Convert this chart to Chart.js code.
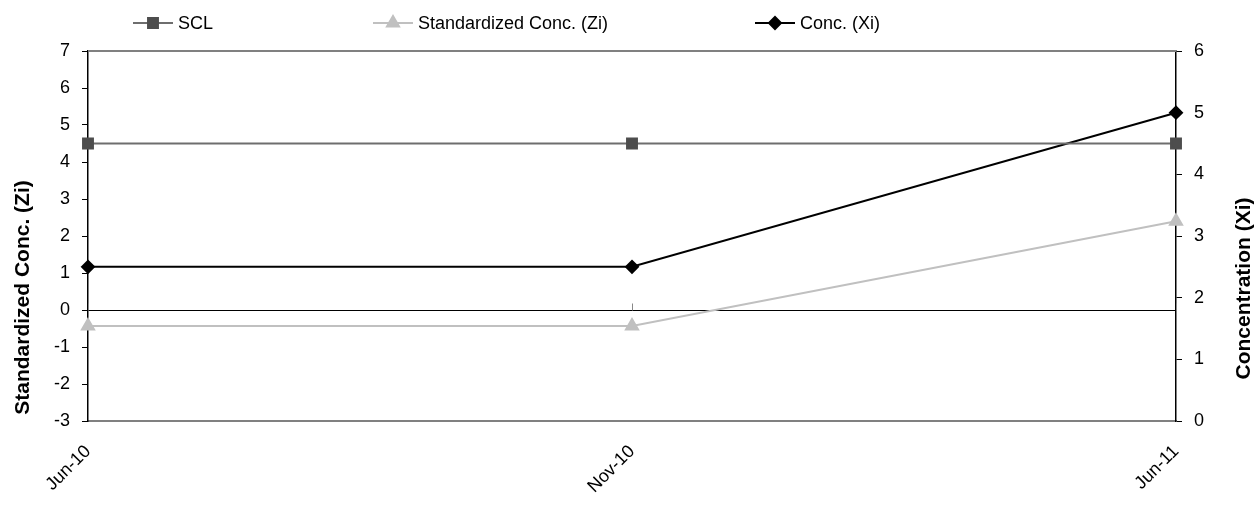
<!DOCTYPE html>
<html>
<head>
<meta charset="utf-8">
<script src="https://cdn.jsdelivr.net/npm/chart.js@4/dist/chart.umd.min.js"></script>
<style>
  html, body { margin: 0; padding: 0; background: #fff; }
  #wrap { width: 1259px; height: 508px; position: relative; }
</style>
</head>
<body>
<div id="wrap"><canvas id="myChart" width="1259" height="508"></canvas></div>
<script>
let dates = ['Jun-10', 'Nov-10', 'Jun-11']
let scl = [4.5, 4.5, 4.5]
let zi = [-0.43, -0.43, 2.4]
let xi = [2.5, 2.5, 5.0]
let leftTicks = [-3, -2, -1, 0, 1, 2, 3, 4, 5, 6, 7]
let rightTicks = [0, 1, 2, 3, 4, 5, 6]

let font = 'Liberation Sans, Arial, sans-serif'

// zero line, top border, legend and axis titles
let extras = {
    id: 'extras',
    beforeDatasetsDraw: (chart) => {
        let ctx = chart.ctx
        let a = chart.chartArea
        let y0 = Math.round(chart.scales.y.getPixelForValue(0)) + 0.5
        ctx.save()
        ctx.strokeStyle = '#808080'
        ctx.lineWidth = 2
        ctx.beginPath()
        ctx.moveTo(a.left, a.top)
        ctx.lineTo(a.right, a.top)
        ctx.stroke()
        ctx.strokeStyle = '#000'
        ctx.lineWidth = 1
        ctx.beginPath()
        ctx.moveTo(a.left, y0)
        ctx.lineTo(a.right, y0)
        ctx.stroke()
        ctx.strokeStyle = '#888'
        dates.forEach((d, i) => {
            let x = Math.round(chart.scales.x.getPixelForValue(i)) + 0.5
            ctx.beginPath()
            ctx.moveTo(x, y0 - 7)
            ctx.lineTo(x, y0)
            ctx.stroke()
        })
        ctx.restore()
    },
    afterDraw: (chart) => {
        let ctx = chart.ctx
        ctx.save()
        // legend
        let items = [[133, 0], [373, 1], [755, 2]]
        items.forEach(([x, i]) => {
            let ds = chart.data.datasets[i]
            let y = 23
            ctx.strokeStyle = ds.borderColor
            ctx.lineWidth = 2
            ctx.beginPath()
            ctx.moveTo(x, y)
            ctx.lineTo(x + 40, y)
            ctx.stroke()
            ctx.fillStyle = ds.pointBackgroundColor
            ctx.strokeStyle = ds.pointBorderColor
            Chart.helpers.drawPoint(ctx, {pointStyle: ds.pointStyle, radius: ds.pointRadius, borderWidth: 1}, x + 20, y)
            ctx.fillStyle = '#000'
            ctx.font = '18px ' + font
            ctx.textBaseline = 'middle'
            ctx.textAlign = 'left'
            ctx.fillText(ds.label, x + 45, y + 1)
        })
        // axis titles
        ctx.font = 'bold 21px ' + font
        ctx.textAlign = 'center'
        ctx.textBaseline = 'alphabetic'
        ctx.fillStyle = '#000'
        ctx.translate(28.5, 297.5)
        ctx.rotate(-Math.PI / 2)
        ctx.fillText('Standardized Conc. (Zi)', 0, 0)
        ctx.setTransform(1, 0, 0, 1, 0, 0)
        ctx.translate(1250, 288.5)
        ctx.rotate(-Math.PI / 2)
        ctx.fillText('Concentration (Xi)', 0, 0)
        ctx.restore()
    }
}

let ctx = document.getElementById('myChart').getContext('2d')
let chart = new Chart(ctx, {
    type: 'line',
    data: {
        labels: dates,
        datasets: [{
            label: 'SCL',
            data: scl,
            yAxisID: 'y',
            borderColor: '#6e6e6e',
            borderWidth: 2,
            pointStyle: 'rect',
            pointRadius: 7,
            pointBackgroundColor: '#4d4d4d',
            pointBorderColor: '#4d4d4d',
            tension: 0
        }, {
            label: 'Standardized Conc. (Zi)',
            data: zi,
            yAxisID: 'y',
            borderColor: '#c0c0c0',
            borderWidth: 2,
            pointStyle: 'triangle',
            pointRadius: 7,
            pointBackgroundColor: '#c0c0c0',
            pointBorderColor: '#c0c0c0',
            tension: 0
        }, {
            label: 'Conc. (Xi)',
            data: xi,
            yAxisID: 'y1',
            borderColor: '#000',
            borderWidth: 2,
            pointStyle: 'rectRot',
            pointRadius: 6,
            pointBackgroundColor: '#000',
            pointBorderColor: '#000',
            tension: 0
        }]
    },
    options: {
        responsive: false,
        animation: false,
        layout: { padding: { top: 51, left: 0, right: 0, bottom: 0 } },
        plugins: { legend: { display: false }, tooltip: { enabled: false } },
        elements: { point: { borderWidth: 1 } },
        scales: {
            x: {
                offset: false,
                grid: { display: false, drawTicks: false },
                border: { display: true, color: '#808080', width: 2 },
                ticks: {
                    color: '#000', font: { family: font, size: 18 },
                    maxRotation: 45, minRotation: 45, padding: 20
                },
                afterFit: (s) => { s.height = 87 }
            },
            y: {
                position: 'left',
                min: -3, max: 7,
                afterBuildTicks: (s) => { s.ticks = leftTicks.map(v => ({value: v})) },
                grid: { drawOnChartArea: false, drawTicks: true, tickLength: 6, color: '#000' },
                border: { display: true, color: '#000', width: 1.5 },
                ticks: { color: '#000', font: { family: font, size: 18 }, padding: 12 },
                afterFit: (s) => { s.width = 88 }
            },
            y1: {
                position: 'right',
                min: 0, max: 6,
                afterBuildTicks: (s) => { s.ticks = rightTicks.map(v => ({value: v})) },
                grid: { drawOnChartArea: false, drawTicks: true, tickLength: 6, color: '#000' },
                border: { display: true, color: '#000', width: 1.5 },
                ticks: { color: '#000', font: { family: font, size: 18 }, padding: 12 },
                afterFit: (s) => { s.width = 83 }
            }
        }
    },
    plugins: [extras]
})
</script>
</body>
</html>
